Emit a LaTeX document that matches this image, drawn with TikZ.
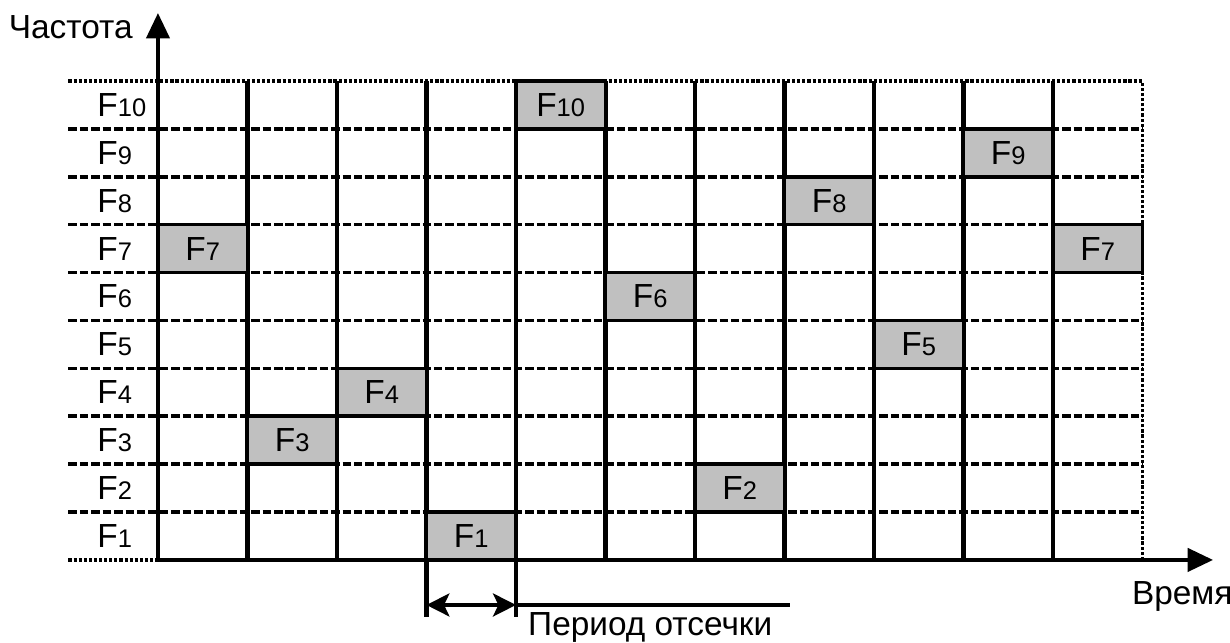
\documentclass[tikz,border=0pt]{standalone}
\usepackage{fontspec}
\setmainfont{Liberation Sans}
\usetikzlibrary{arrows.meta, positioning}
\newcommand{\flab}[1]{F{\fontsize{14.5}{16}\selectfont #1}}
\definecolor{slotgray}{HTML}{C0C0C0}

\begin{document}
\begin{tikzpicture}[x=1.79cm,y=0.958cm,
    hgrid/.style={line width=2pt,dash pattern=on 4.8pt off 1.7pt},
    dotgrid/.style={line width=2pt,dash pattern=on 1.8pt off 1.1pt},
    vgrid/.style={line width=2.4pt},
    axis/.style={line width=2.6pt,-{Triangle[length=14.5pt,width=13pt]}},
    slot/.style={draw,line width=2pt,fill=slotgray,minimum width=1.79cm,
      minimum height=0.958cm,inner sep=0pt}]
  \fontsize{19}{22}\selectfont
  \useasboundingbox (-1.765,-1.733) rectangle (11.978,11.69);

    % сетка частот
  \foreach \r in {1,...,9}
    \draw[hgrid] (-1.0,\r) -- (11,\r);
  \draw[dotgrid] (-1.0,10) -- (11,10);
  \draw[dotgrid] (-1.0,0) -- (11,0);
  \draw[dotgrid] (11,0) -- (11,10);

    % интервалы времени
  \foreach \c in {1,2,5,6,7,8,9,10}
    \draw[vgrid] (\c,0) -- (\c,10);
  \draw[vgrid] (3,-1.19) -- (3,10);
  \draw[vgrid] (4,-1.19) -- (4,10);

    % подписи частот
  \foreach \r in {1,...,10}
    \node[anchor=west,inner sep=0pt] (f\r) at (-0.68,\r-0.5) {\flab{\r}};

    % занятые слоты
  \foreach \c/\r in {0/7,1/3,2/4,3/1,4/10,5/6,6/2,7/8,8/5,9/9,10/7}
    \node[slot] (s\c) at (\c+0.5,\r-0.5) {\flab{\r}};

    % оси
  \coordinate (o) at (0,0);
  \coordinate (tx) at (11.79,0);
  \coordinate (ty) at (0,11.42);
  \draw[axis] (o) -- (tx);
  \draw[axis] (o) -- (ty);
  \node[anchor=east,inner sep=0pt] (freq) at (-0.28,11.13) {Частота};
  \node[anchor=west,inner sep=0pt] (time) at (10.88,-0.77) {Время};

    % период отсечки
  \coordinate (pa) at (3,-0.94);
  \coordinate (pb) at (4,-0.94);
  \coordinate (pc) at (7.06,-0.94);
  \draw[line width=2.4pt,{Stealth[length=13pt,width=13pt,inset=3pt]}-{Stealth[length=13pt,width=13pt,inset=3pt]}] (pa) -- (pb);
  \draw[line width=2.4pt] (pb) -- (pc);
  \node[inner sep=0pt] (per) at (5.5,-1.42) {Период отсечки};
\end{tikzpicture}
\end{document}
